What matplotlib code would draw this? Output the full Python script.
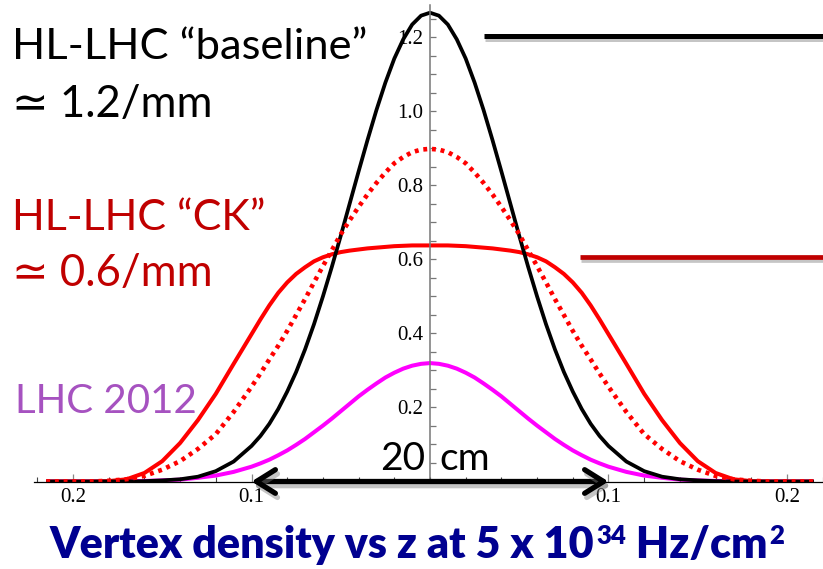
import matplotlib
matplotlib.use("Agg")
import matplotlib.pyplot as plt
import matplotlib.patheffects as pe
from matplotlib.lines import Line2D
from matplotlib.ticker import MultipleLocator, FixedLocator, FixedFormatter

# z in metres, one half of each (symmetric) profile
z_half = [0, .005, .01, .015, .02, .025, .03, .035, .04, .045, .05, .055, .06, .065,
          .07, .075, .08, .085, .09, .095, .10, .11, .12, .13, .14, .15, .16, .17,
          .18, .19, .20, .215]
baseline_half = [1.267, 1.259, 1.235, 1.195, 1.143, 1.078, 1.004, 0.923, 0.838, 0.751,
                 0.664, 0.580, 0.500, 0.425, 0.357, 0.296, 0.243, 0.196, 0.156, 0.123,
                 0.096, 0.054, 0.028, 0.013, 0.006, 0.003, 0.001, 0, 0, 0, 0, 0]
ck_half = [0.638, 0.638, 0.638, 0.637, 0.636, 0.634, 0.632, 0.630, 0.627, 0.624,
           0.620, 0.614, 0.606, 0.595, 0.579, 0.561, 0.538, 0.510, 0.476, 0.438,
           0.398, 0.318, 0.237, 0.166, 0.104, 0.055, 0.023, 0.006, 0.001, 0, 0, 0]
ck_dotted_half = [0.899, 0.897, 0.890, 0.877, 0.860, 0.835, 0.807, 0.776, 0.742, 0.706,
                  0.668, 0.625, 0.582, 0.538, 0.493, 0.450, 0.407, 0.367, 0.330, 0.292,
                  0.256, 0.188, 0.128, 0.088, 0.055, 0.032, 0.015, 0.006, 0.002, 0, 0, 0]
lhc2012_half = [0.320, 0.318, 0.313, 0.305, 0.294, 0.281, 0.265, 0.248, 0.230, 0.210,
                0.190, 0.170, 0.151, 0.133, 0.115, 0.099, 0.084, 0.071, 0.059, 0.049,
                0.040, 0.026, 0.016, 0.010, 0.005, 0.003, 0.0015, 0.0007, 0, 0, 0, 0]

x_ticks = [-0.2, -0.1, 0.1, 0.2]
x_ticklabels = ["0.2", "0.1", "0.1", "0.2"]
y_ticks = [0.2, 0.4, 0.6, 0.8, 1.0, 1.2]


def mirror(h):
    return h[::-1] + h[1:]


z = [-v for v in z_half[::-1]] + z_half[1:]

# tick labels are serif; every other text names its own family
plt.rcParams["font.family"] = ["Liberation Serif", "DejaVu Serif"]
plt.rcParams["xtick.labelsize"] = 15
plt.rcParams["ytick.labelsize"] = 15

W, H = 823, 569
fig = plt.figure(figsize=(W / 100, H / 100), dpi=100)


def px(x, y):
    return x / W, 1 - y / H


ax = fig.add_axes([34 / W, 1 - 481.5 / H, (W - 34) / W, 476.5 / H])
ax.set_xlim(-0.22185, 0.22017)
ax.set_ylim(0, 1.2878)

ax.plot(z, mirror(lhc2012_half), color="#ff00ff", lw=2.9, solid_capstyle="butt")
ax.plot(z, mirror(ck_half), color="#ff0000", lw=2.9, solid_capstyle="butt")
ax.plot(z, mirror(baseline_half), color="black", lw=2.7, solid_capstyle="butt")
ax.plot(z, mirror(ck_dotted_half), color="#ff0000", lw=3.3,
        linestyle=(0, (0.85, 1.05)), dash_capstyle="butt")

for s in ["top", "right"]:
    ax.spines[s].set_visible(False)
ax.spines["left"].set_position(("data", 0))
ax.spines["left"].set_color("#777777")
ax.spines["left"].set_linewidth(1.1)
ax.spines["bottom"].set_color("black")
ax.spines["bottom"].set_linewidth(0.9)

ax.xaxis.set_major_locator(FixedLocator(x_ticks))
ax.xaxis.set_major_formatter(FixedFormatter(x_ticklabels))
ax.xaxis.set_minor_locator(MultipleLocator(0.02))
ax.tick_params(axis="x", which="major", direction="in", length=6, width=0.9,
               color="#888888", pad=5)
ax.tick_params(axis="x", which="minor", direction="in", length=3.6, width=0.8,
               color="#444444")

ax.yaxis.set_major_locator(FixedLocator(y_ticks))
ax.yaxis.set_major_formatter(FixedFormatter([f"{v:.1f}" for v in y_ticks]))
ax.yaxis.set_minor_locator(MultipleLocator(0.05))
ax.tick_params(axis="y", which="both", direction="in", length=4.5, width=0.9,
               color="#777777", pad=5)

# 20 cm double arrow
shadow = [pe.SimpleLineShadow(offset=(1.5, -3), shadow_color="gray", alpha=0.45), pe.Normal()]
ax.annotate("", xy=(0.1, 0), xytext=(-0.1, 0),
            arrowprops=dict(arrowstyle="<->, head_length=0.4, head_width=0.25",
                            mutation_scale=34, lw=3.8, color="black",
                            shrinkA=0, shrinkB=0, path_effects=shadow),
            annotation_clip=False)

sans = ["Lato", "DejaVu Sans"]
fig.text(*px(380, 470), "20", fontsize=28, family=sans, va="baseline", ha="left")
fig.text(*px(439, 470), "cm", fontsize=28, family=sans, va="baseline", ha="left")

# labels on the left
fig.text(*px(12, 59), "HL-LHC \u201cbaseline\u201d", fontsize=31.3, family=sans,
         color="black", va="baseline")
fig.text(*px(12, 117), "\u2243 1.2/mm", fontsize=31.5, family=sans,
         color="black", va="baseline")
fig.text(*px(12, 230), "HL-LHC \u201cCK\u201d", fontsize=31, family=sans,
         color="#c00000", va="baseline")
fig.text(*px(12, 286), "\u2243 0.6/mm", fontsize=31.5, family=sans,
         color="#c00000", va="baseline")
fig.text(*px(15, 413), "LHC 2012", fontsize=29, family=sans,
         color="#a652c0", va="baseline")

# marker lines
for y0, x0, col, lw in [(36, 484, "black", 3.6), (257, 580, "#c00000", 3.4)]:
    fig.add_artist(Line2D([x0 / W, 1.0], [1 - y0 / H, 1 - y0 / H], color=col, lw=lw,
                          solid_capstyle="butt",
                          path_effects=[pe.SimpleLineShadow(offset=(1, -2.5), shadow_color="gray",
                                                            alpha=0.45), pe.Normal()]))

# title, built from pieces so the powers sit raised
navy = "#000090"
base_y = H - 558
sup_y = base_y + 14
title_kw = dict(family=sans, weight="heavy", color=navy, ha="left", va="baseline",
                annotation_clip=False)
t1 = fig.text(*px(50, 558), "Vertex density vs z at 5 x 10", fontsize=31, family=sans,
              weight="heavy", color=navy, va="baseline")
t2 = ax.annotate("34", xy=(1, sup_y), xycoords=(t1, "figure pixels"),
                 xytext=(1, 0), textcoords="offset points", fontsize=18.5, **title_kw)
t3 = ax.annotate(" Hz/cm", xy=(1, base_y), xycoords=(t2, "figure pixels"),
                 fontsize=31, **title_kw)
t4 = ax.annotate("2", xy=(1, sup_y), xycoords=(t3, "figure pixels"),
                 xytext=(1, 0), textcoords="offset points", fontsize=18.5, **title_kw)

fig.savefig("out.png", dpi=100)
